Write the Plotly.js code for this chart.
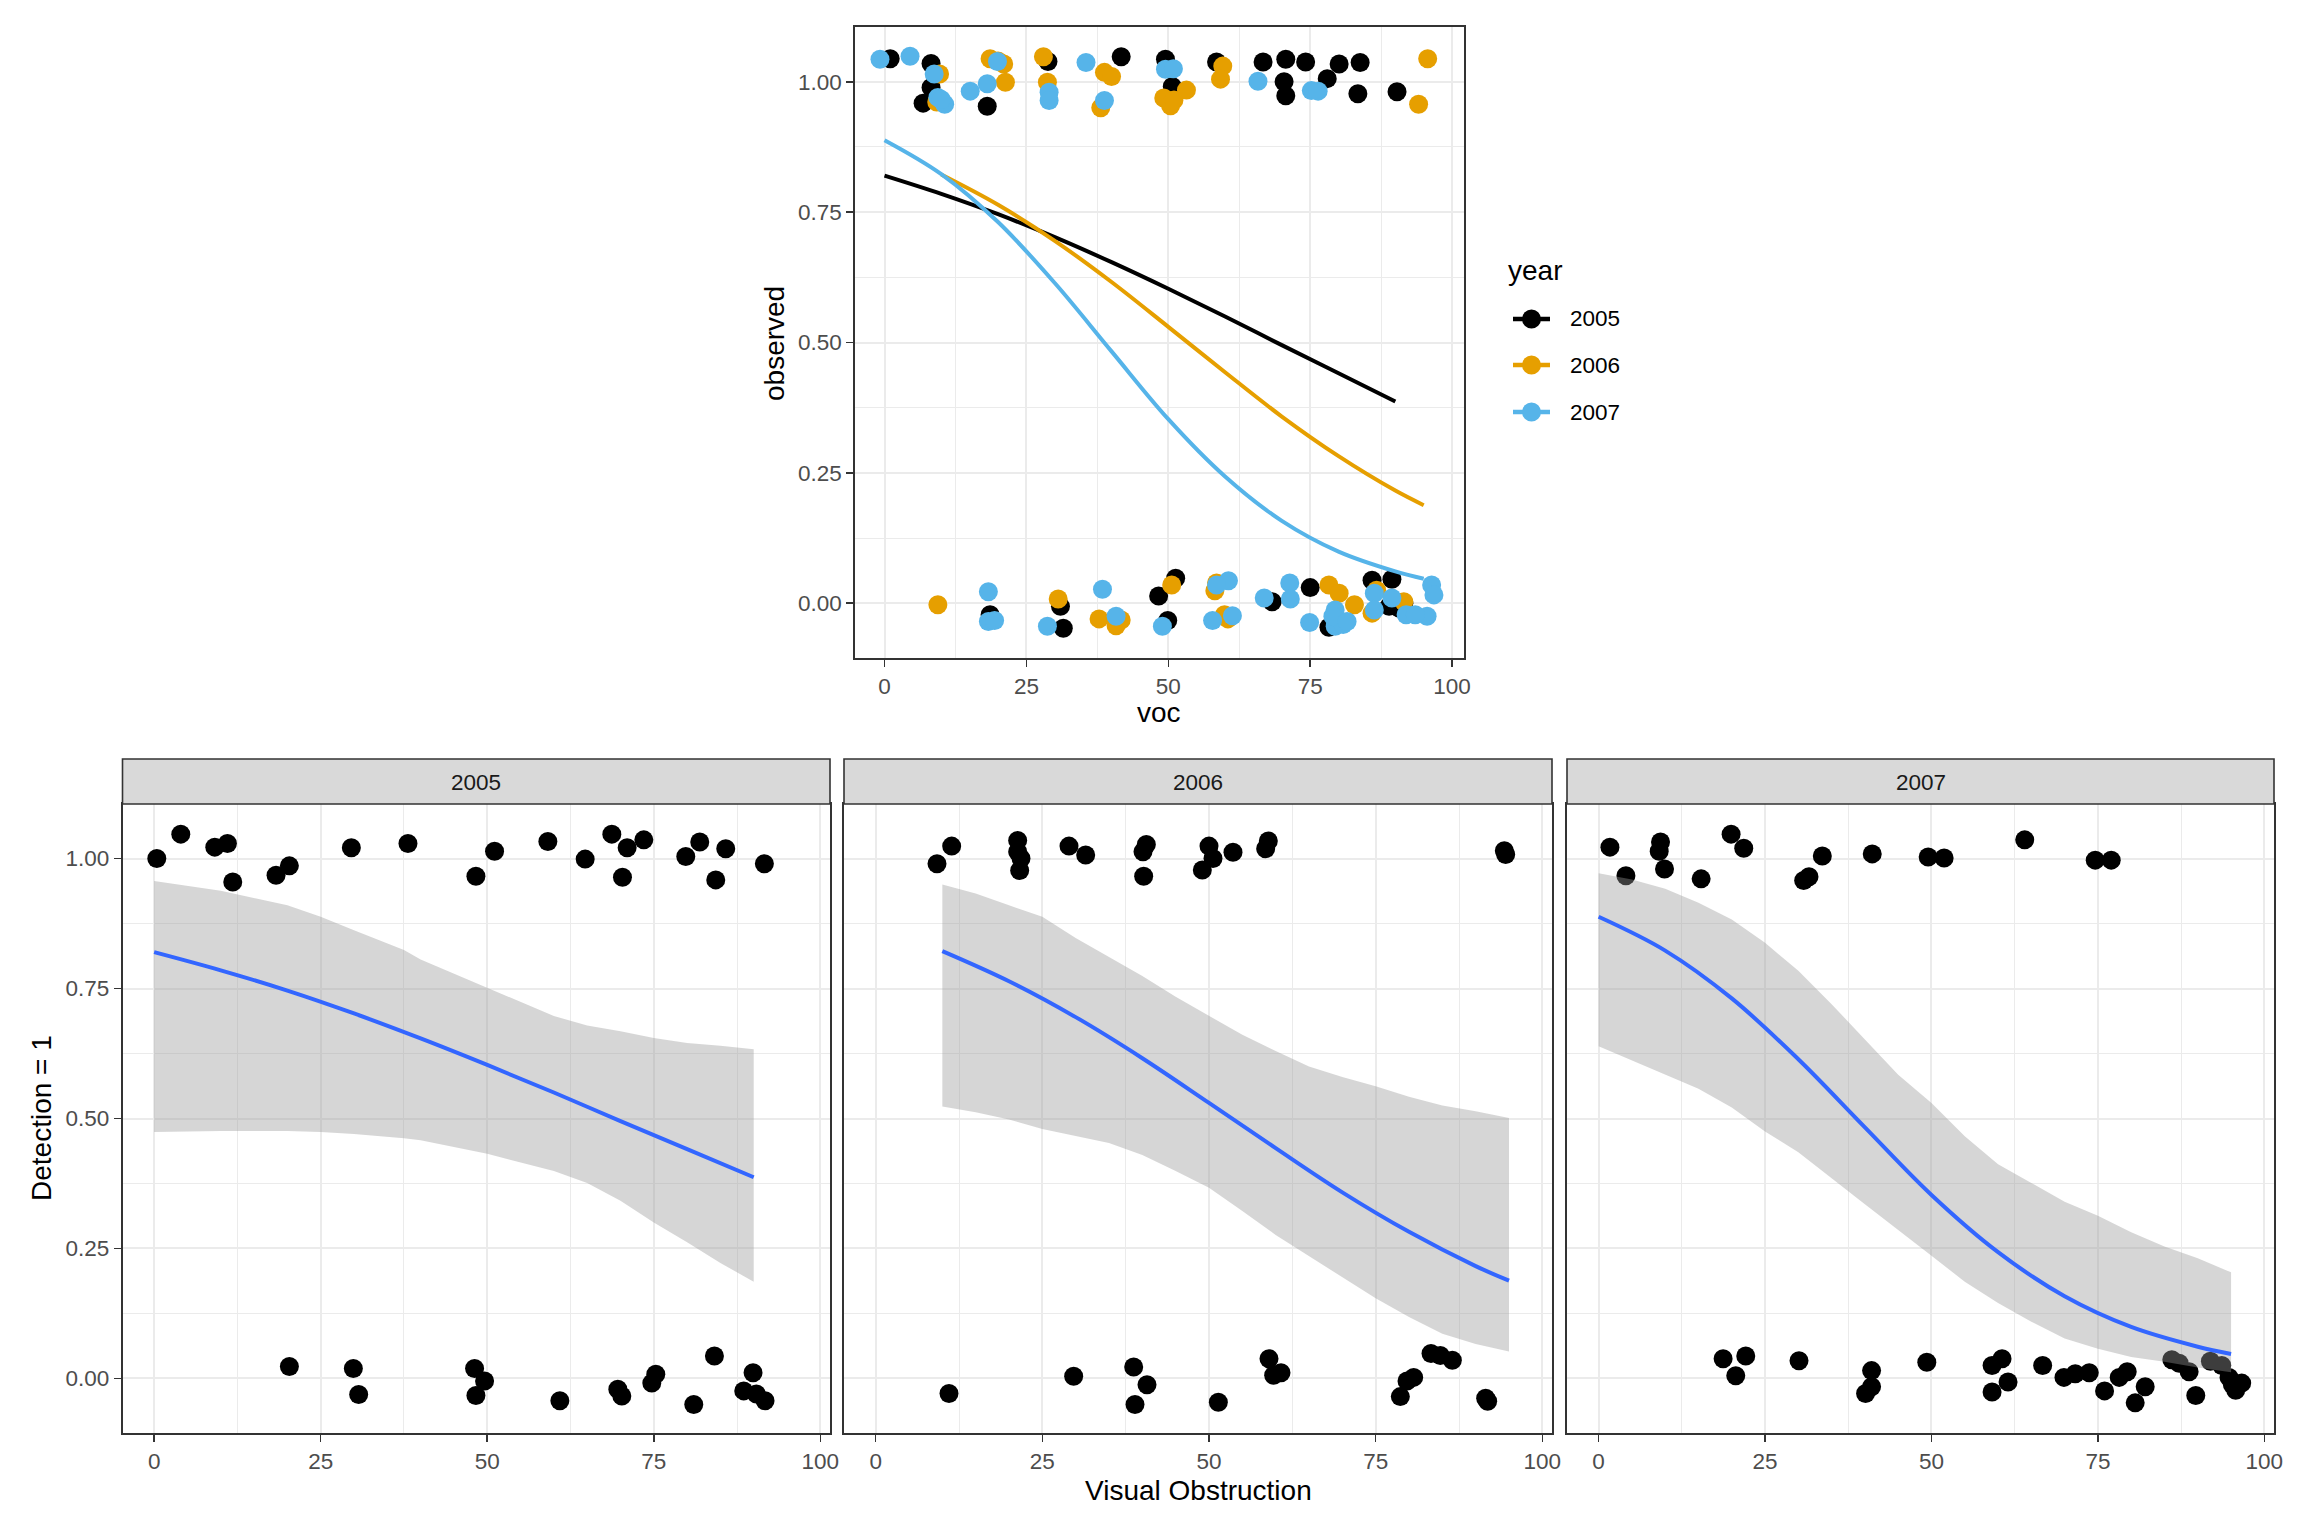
<!DOCTYPE html>
<html>
<head>
<meta charset="utf-8">
<script src="https://cdn.plot.ly/plotly-3.0.1.min.js"></script>
<style>html,body{margin:0;padding:0;background:#fff;}#chart{width:2304px;height:1536px;}</style>
</head>
<body>
<div id="chart"></div>
<script>
// ---------------- DATA ----------------
const years = ['2005', '2006', '2007'];
const yearColors = ['#000000', '#E69F00', '#56B4E9'];

const xTickVals = [0, 25, 50, 75, 100];
const xTickText = ['0', '25', '50', '75', '100'];
const yTickVals = [0, 0.25, 0.5, 0.75, 1];
const yTickText = ['0.00', '0.25', '0.50', '0.75', '1.00'];

// top panel (all years, jittered)
const top2005X = [1.0, 8.2, 8.2, 6.8, 9.0, 18.1, 28.8, 41.7, 49.5, 50.7, 58.5, 66.7, 70.7, 70.4, 70.7, 74.2, 78.0, 80.1, 83.8, 83.4, 90.3,
  18.6, 31.0, 31.5, 48.3, 51.3, 49.9, 68.3, 75.0, 78.3, 85.9, 89.4, 88.9, 90.8, 79.0, 91.5];
const top2005Y = [1.044, 1.035, 0.989, 0.959, 0.970, 0.953, 1.039, 1.048, 1.043, 0.991, 1.038, 1.038, 1.043, 1.000, 0.973, 1.038, 1.006, 1.034, 1.037, 0.977, 0.981,
  -0.022, -0.006, -0.048, 0.014, 0.048, -0.033, 0.003, 0.030, -0.046, 0.044, 0.046, -0.006, -0.010, -0.040, 0.000];

const top2006X = [18.6, 21.0, 21.3, 9.7, 9.2, 28.0, 28.7, 38.1, 38.75, 40.0, 49.2, 50.4, 53.2, 59.6, 59.2, 95.7, 94.1, 20.0, 51.0,
  9.4, 30.6, 37.8, 40.8, 41.7, 50.6, 58.5, 58.2, 59.9, 78.3, 80.1, 82.8, 85.9, 86.7, 91.5, 60.5];
const top2006Y = [1.044, 1.034, 0.999, 1.015, 0.961, 1.048, 0.999, 0.950, 1.018, 1.010, 0.969, 0.954, 0.984, 1.030, 1.005, 1.044, 0.957, 1.040, 0.965,
  -0.003, 0.008, -0.030, -0.043, -0.032, 0.035, 0.039, 0.024, -0.022, 0.035, 0.019, -0.003, -0.019, 0.025, 0.003, -0.030];

const top2007X = [-0.8, 4.5, 8.75, 9.4, 10.6, 10.0, 15.1, 18.1, 19.9, 29.0, 29.0, 35.5, 38.75, 49.5, 50.9, 65.8, 75.2, 76.4,
  18.3, 18.3, 19.4, 28.7, 38.4, 40.8, 48.96, 57.8, 61.3, 60.6, 58.5, 66.9, 71.4, 71.5, 74.9, 79.4, 79.4, 80.8, 79.0, 86.3, 86.3, 89.4, 91.9, 95.6, 96.4, 96.8, 93.5, 81.5];
const top2007Y = [1.043, 1.049, 1.015, 0.970, 0.957, 0.966, 0.982, 0.996, 1.039, 0.980, 0.964, 1.037, 0.964, 1.024, 1.025, 1.001, 0.983, 0.982,
  0.022, -0.035, -0.033, -0.044, 0.027, -0.025, -0.044, -0.033, -0.024, 0.043, 0.035, 0.010, 0.039, 0.008, -0.037, -0.013, -0.044, -0.041, -0.025, 0.019, -0.013, 0.010, -0.022, -0.025, 0.035, 0.016, -0.022, -0.035];

// facet panels (each year, jittered separately)
const facet2005X = [0.4, 4.0, 9.1, 11.0, 11.8, 18.3, 20.3, 29.6, 38.1, 48.3, 51.1, 59.1, 64.7, 68.7, 70.3, 71.0, 73.5, 79.8, 81.9, 84.3, 85.8, 91.6,
  20.3, 29.9, 30.7, 48.1, 49.6, 48.3, 60.9, 69.6, 70.2, 74.7, 75.3, 81.0, 84.1, 88.5, 89.9, 90.4, 91.7];
const facet2005Y = [1.000, 1.047, 1.022, 1.029, 0.955, 0.968, 0.986, 1.021, 1.029, 0.966, 1.014, 1.033, 0.999, 1.047, 0.964, 1.021, 1.036, 1.004, 1.032, 0.959, 1.019, 0.990,
  0.023, 0.019, -0.031, 0.019, -0.005, -0.033, -0.043, -0.021, -0.034, -0.009, 0.008, -0.050, 0.043, -0.024, 0.011, -0.030, -0.043];

const facet2006X = [9.2, 11.4, 21.3, 21.3, 21.8, 21.6, 29.0, 31.5, 40.6, 40.1, 40.2, 50.0, 50.6, 49.0, 53.6, 58.9, 58.5, 94.3, 94.5,
  11.0, 29.7, 38.7, 40.7, 38.9, 51.4, 59.0, 59.7, 60.8, 78.7, 79.7, 80.7, 83.3, 84.7, 86.5, 91.5, 91.8];
const facet2006Y = [0.990, 1.024, 1.035, 1.013, 1.000, 0.977, 1.024, 1.007, 1.027, 1.013, 0.966, 1.024, 1.000, 0.978, 1.012, 1.034, 1.019, 1.015, 1.008,
  -0.029, 0.004, 0.022, -0.012, -0.050, -0.046, 0.038, 0.006, 0.011, -0.035, -0.005, 0.002, 0.048, 0.044, 0.035, -0.038, -0.044];

const facet2007X = [1.7, 4.1, 9.3, 9.1, 9.9, 15.4, 19.9, 21.8, 30.8, 31.6, 33.6, 41.1, 49.5, 51.9, 64.0, 74.6, 77.0,
  18.7, 20.6, 22.1, 30.1, 41.0, 41.0, 40.1, 49.3, 59.1, 60.6, 61.5, 59.1, 66.7, 69.9, 71.6, 73.7, 76.0, 78.2, 79.4, 80.6, 82.1,
  86.1, 87.2, 88.7, 89.7, 91.9, 93.6, 94.7, 95.7, 96.6, 95.2];
const facet2007Y = [1.022, 0.967, 1.032, 1.014, 0.980, 0.961, 1.047, 1.020, 0.958, 0.965, 1.005, 1.009, 1.003, 1.001, 1.036, 0.997, 0.997,
  0.038, 0.005, 0.043, 0.034, 0.015, -0.016, -0.029, 0.031, 0.025, 0.038, -0.007, -0.026, 0.025, 0.002, 0.009, 0.011, -0.024, 0.002, 0.013, -0.047, -0.016,
  0.036, 0.029, 0.013, -0.033, 0.033, 0.025, 0.002, -0.023, -0.009, -0.012];

// fitted curves
const fit2005X = [0, 10, 20, 30, 40, 50, 60, 70, 80, 90];
const fit2005Y = [0.820, 0.785, 0.746, 0.702, 0.654, 0.603, 0.550, 0.495, 0.441, 0.387];
const fit2006X = [10, 20, 30, 40, 50, 60, 70, 80, 90, 95];
const fit2006Y = [0.822, 0.764, 0.695, 0.616, 0.530, 0.443, 0.358, 0.282, 0.216, 0.188];
const fit2007X = [0, 10, 20, 30, 40, 50, 60, 70, 80, 90, 95];
const fit2007Y = [0.888, 0.823, 0.731, 0.614, 0.483, 0.353, 0.243, 0.158, 0.099, 0.061, 0.047];

// confidence bands
const ci2005X = [0, 10, 20, 25, 30, 37.5, 40, 50, 60, 65, 70, 75, 80, 85, 90];
const ci2005Upper = [0.957, 0.938, 0.910, 0.888, 0.862, 0.824, 0.806, 0.752, 0.697, 0.679, 0.668, 0.655, 0.645, 0.640, 0.633];
const ci2005Lower = [0.474, 0.476, 0.476, 0.474, 0.470, 0.462, 0.458, 0.432, 0.399, 0.376, 0.342, 0.300, 0.262, 0.222, 0.186];

const ci2006X = [10, 15, 20, 25, 30, 35, 40, 45, 50, 55, 60, 65, 70, 75, 80, 85, 90, 95];
const ci2006Upper = [0.950, 0.933, 0.910, 0.888, 0.847, 0.811, 0.774, 0.734, 0.697, 0.661, 0.630, 0.600, 0.580, 0.562, 0.542, 0.525, 0.514, 0.501];
const ci2006Lower = [0.523, 0.512, 0.498, 0.480, 0.466, 0.453, 0.430, 0.399, 0.367, 0.322, 0.276, 0.236, 0.195, 0.154, 0.118, 0.086, 0.066, 0.052];

const ci2007X = [0, 5, 10, 15, 20, 25, 30, 35, 40, 45, 50, 55, 60, 65, 70, 75, 80, 85, 90, 95];
const ci2007Upper = [0.972, 0.960, 0.942, 0.915, 0.883, 0.838, 0.784, 0.720, 0.652, 0.584, 0.530, 0.466, 0.412, 0.376, 0.340, 0.313, 0.281, 0.254, 0.231, 0.204];
const ci2007Lower = [0.639, 0.611, 0.584, 0.557, 0.521, 0.475, 0.435, 0.385, 0.335, 0.285, 0.236, 0.186, 0.145, 0.109, 0.077, 0.057, 0.041, 0.032, 0.021, 0.012];

// ---------------- BUILD ----------------
const W = 2304, H = 1536;
const FONT = 'Liberation Sans, Arial, Helvetica, sans-serif';
const px = v => v / W;
const py = v => 1 - v / H;

const topPts = [[top2005X, top2005Y], [top2006X, top2006Y], [top2007X, top2007Y]];
const fits = [[fit2005X, fit2005Y], [fit2006X, fit2006Y], [fit2007X, fit2007Y]];
const facetPts = [[facet2005X, facet2005Y], [facet2006X, facet2006Y], [facet2007X, facet2007Y]];
const cis = [[ci2005X, ci2005Upper, ci2005Lower], [ci2006X, ci2006Upper, ci2006Lower], [ci2007X, ci2007Upper, ci2007Lower]];

const traces = [];
const MS = 19;
// top panel points
topPts.forEach((p, i) => traces.push({
  type: 'scatter', mode: 'markers', x: p[0], y: p[1], xaxis: 'x', yaxis: 'y',
  marker: {color: yearColors[i], size: MS, line: {width: 0}}, name: years[i], hoverinfo: 'skip'
}));
// top panel lines
fits.forEach((f, i) => traces.push({
  type: 'scatter', mode: 'lines', x: f[0], y: f[1], xaxis: 'x', yaxis: 'y',
  line: {color: yearColors[i], width: 4, shape: 'spline'}, name: years[i], hoverinfo: 'skip'
}));
// facets
const fAx = [['x2', 'y2'], ['x3', 'y3'], ['x4', 'y4']];
years.forEach((yr, i) => {
  traces.push({
    type: 'scatter', mode: 'markers', x: facetPts[i][0], y: facetPts[i][1], xaxis: fAx[i][0], yaxis: fAx[i][1],
    marker: {color: '#000000', size: MS, line: {width: 0}}, hoverinfo: 'skip'
  });
  const c = cis[i];
  traces.push({
    type: 'scatter', mode: 'lines', x: c[0].concat(c[0].slice().reverse()), y: c[1].concat(c[2].slice().reverse()),
    xaxis: fAx[i][0], yaxis: fAx[i][1], fill: 'toself', fillcolor: 'rgba(153,153,153,0.4)',
    line: {width: 0, shape: 'linear'}, hoverinfo: 'skip'
  });
  traces.push({
    type: 'scatter', mode: 'lines', x: fits[i][0], y: fits[i][1], xaxis: fAx[i][0], yaxis: fAx[i][1],
    line: {color: '#3366FF', width: 4, shape: 'spline'}, hoverinfo: 'skip'
  });
});

function xAxis(domain, anchor, range) {
  return {
    domain: domain, anchor: anchor, range: range, autorange: false,
    tickmode: 'array', tickvals: xTickVals, ticktext: xTickText,
    showline: true, mirror: true, linecolor: '#333333', linewidth: 1.6,
    showgrid: true, gridcolor: '#EBEBEB', gridwidth: 2, zeroline: false,
    ticks: 'outside', ticklen: 7, tickwidth: 1.6, tickcolor: '#333333',
    tickfont: {family: FONT, size: 22.5, color: '#4D4D4D'},
    minor: {tickmode: 'array', tickvals: [12.5, 37.5, 62.5, 87.5], showgrid: true, gridcolor: '#EBEBEB', gridwidth: 1, ticks: ''}
  };
}
function yAxis(domain, anchor, range, labels) {
  return {
    domain: domain, anchor: anchor, range: range, autorange: false,
    tickmode: 'array', tickvals: yTickVals, ticktext: yTickText,
    showticklabels: labels,
    showline: true, mirror: true, linecolor: '#333333', linewidth: 1.6,
    showgrid: true, gridcolor: '#EBEBEB', gridwidth: 2, zeroline: false,
    ticks: labels ? 'outside' : '', ticklen: 7, tickwidth: 1.6, tickcolor: '#333333',
    tickfont: {family: FONT, size: 22.5, color: '#4D4D4D'},
    minor: {tickmode: 'array', tickvals: [0.125, 0.375, 0.625, 0.875], showgrid: true, gridcolor: '#EBEBEB', gridwidth: 1, ticks: ''}
  };
}

const yr = [-0.105, 1.105];
const botDom = [py(1433), py(804)];
const panelX = [[122.5, 830], [844, 1552], [1567, 2274]];

const layout = {
  width: W, height: H, margin: {l: 0, r: 0, t: 0, b: 0},
  paper_bgcolor: '#ffffff', plot_bgcolor: '#ffffff', showlegend: false,
  font: {family: FONT},
  xaxis: xAxis([px(855), px(1464)], 'y', [-5.2, 102.1]),
  yaxis: yAxis([py(658), py(27)], 'x', yr, true),
  xaxis2: xAxis([px(panelX[0][0]), px(panelX[0][1])], 'y2', [-4.75, 101.45]),
  yaxis2: yAxis(botDom, 'x2', yr, true),
  xaxis3: xAxis([px(panelX[1][0]), px(panelX[1][1])], 'y3', [-4.75, 101.45]),
  yaxis3: yAxis(botDom, 'x3', yr, false),
  xaxis4: xAxis([px(panelX[2][0]), px(panelX[2][1])], 'y4', [-4.75, 101.45]),
  yaxis4: yAxis(botDom, 'x4', yr, false),
  shapes: [],
  annotations: []
};

// strips
years.forEach((yrs, i) => {
  layout.shapes.push({type: 'rect', xref: 'paper', yref: 'paper',
    x0: px(panelX[i][0]), x1: px(panelX[i][1]), y0: py(804), y1: py(759),
    fillcolor: '#D9D9D9', line: {color: '#333333', width: 1.6}, layer: 'above'});
  layout.annotations.push({xref: 'paper', yref: 'paper', x: px((panelX[i][0] + panelX[i][1]) / 2), y: py(782),
    text: yrs, showarrow: false, xanchor: 'center', yanchor: 'middle',
    font: {family: FONT, size: 22.5, color: '#1A1A1A'}});
});

// legend
layout.annotations.push({xref: 'paper', yref: 'paper', x: px(1506), y: py(270), text: 'year', showarrow: false,
  xanchor: 'left', yanchor: 'middle', font: {family: FONT, size: 28, color: '#000000'}});
const legY = [319, 365, 412];
years.forEach((yrs, i) => {
  layout.shapes.push({type: 'line', xref: 'paper', yref: 'paper', x0: px(1513), x1: px(1550), y0: py(legY[i]), y1: py(legY[i]),
    line: {color: yearColors[i], width: 4.5}});
  layout.shapes.push({type: 'circle', xref: 'paper', yref: 'paper', xsizemode: 'pixel', ysizemode: 'pixel',
    xanchor: px(1531.5), yanchor: py(legY[i]), x0: -9.5, x1: 9.5, y0: -9.5, y1: 9.5,
    fillcolor: yearColors[i], line: {width: 0}});
  layout.annotations.push({xref: 'paper', yref: 'paper', x: px(1568), y: py(legY[i]), text: yrs, showarrow: false,
    xanchor: 'left', yanchor: 'middle', font: {family: FONT, size: 22.5, color: '#000000'}});
});

// axis titles
const titles = [
  {t: 'observed', x: 774, y: 344, a: -90},
  {t: 'voc', x: 1159, y: 713, a: 0},
  {t: 'Detection = 1', x: 41, y: 1118, a: -90},
  {t: 'Visual Obstruction', x: 1198, y: 1490, a: 0}
];
titles.forEach(o => layout.annotations.push({xref: 'paper', yref: 'paper', x: px(o.x), y: py(o.y), text: o.t,
  textangle: o.a, showarrow: false, xanchor: 'center', yanchor: 'middle',
  font: {family: FONT, size: 28, color: '#000000'}}));

Plotly.newPlot('chart', traces, layout, {displayModeBar: false, staticPlot: true});
</script>
</body>
</html>
